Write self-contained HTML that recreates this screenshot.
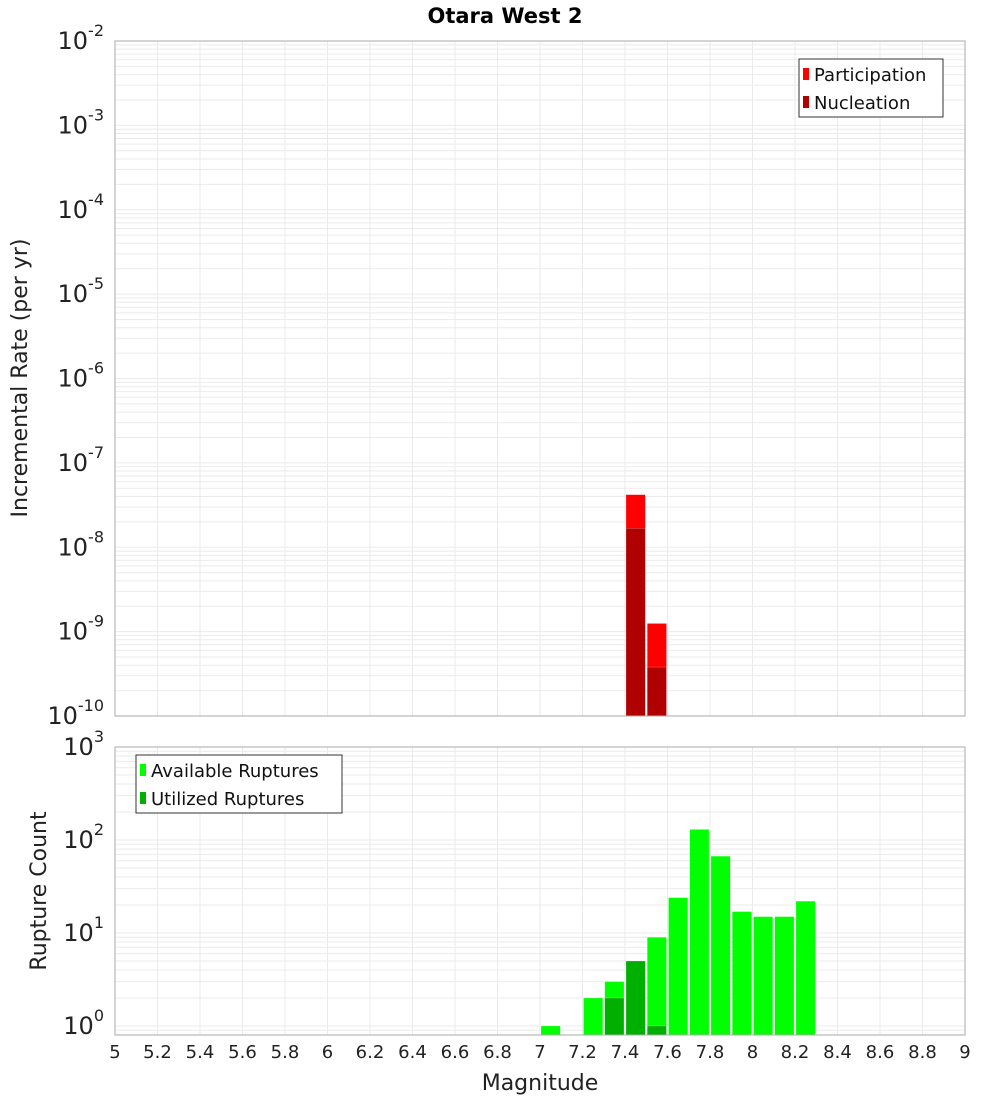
<!DOCTYPE html>
<html><head><meta charset="utf-8"><style>
body{margin:0;background:#fff;font-family:"Liberation Sans","DejaVu Sans",sans-serif}
svg text{font-family:"DejaVu Sans","Liberation Sans",sans-serif}
</style></head><body>
<svg id="c" width="1000" height="1100" xmlns="http://www.w3.org/2000/svg">
<text x="505" y="23" text-anchor="middle" font-size="21" font-weight="bold">Otara West 2</text>
<g id="topPanel"></g>
<g id="botPanel"></g>
<text transform="translate(27,378) rotate(-90)" text-anchor="middle" font-size="22" fill="#222">Incremental Rate (per yr)</text>
<text transform="translate(46,891) rotate(-90)" text-anchor="middle" font-size="22" fill="#222">Rupture Count</text>
<text x="540" y="1090" text-anchor="middle" font-size="22" fill="#222">Magnitude</text>
</svg>
<script>
const partMags=[7.4,7.5];
const partRates=[4.2e-8,1.25e-9];
const nuclMags=[7.4,7.5];
const nuclRates=[1.68e-8,3.8e-10];
const availMags=[7.0,7.2,7.3,7.4,7.5,7.6,7.7,7.8,7.9,8.0,8.1,8.2];
const availCounts=[1,2,3,5,9,24,130,67,17,15,15,22];
const utilMags=[7.3,7.4,7.5];
const utilCounts=[2,5,1];
const xTicks=[5,5.2,5.4,5.6,5.8,6,6.2,6.4,6.6,6.8,7,7.2,7.4,7.6,7.8,8,8.2,8.4,8.6,8.8,9];
const NS="http://www.w3.org/2000/svg";
const L=115,R=965;
const xs=m=>L+(m-5)/4*(R-L);
const yTop=v=>41+(-2-Math.log10(v))*84.375;
const yBot=v=>1026-Math.log10(v)*93;
function mk(p,t,a){const e=document.createElementNS(NS,t);for(const k in a)e.setAttribute(k,a[k]);p.appendChild(e);return e;}
function panel(g,t,b,yf,dmin,dmax,lo,hi,name){
  mk(g,'rect',{x:L,y:t,width:R-L,height:b-t,fill:'#fff',stroke:'none'});
  for(let d=dmin;d<=dmax;d++)for(let k=1;k<10;k++){const v=k*Math.pow(10,d);if(v<lo||v>hi)continue;const y=yf(v);
    const l=mk(g,'line',{x1:L,x2:R,y1:y,y2:y,stroke:'#ebebeb','stroke-width':1});
    
    }
  xTicks.forEach(m=>{const l=mk(g,'line',{x1:xs(m),x2:xs(m),y1:t,y2:b,stroke:'#ebebeb'});
    
    });
}
function bars(g,mags,vals,yf,base,color,name){
  mags.forEach((m,i)=>{const y=yf(vals[i]);const r=mk(g,'rect',{x:xs(m)+1,y:y,width:xs(m+0.1)-xs(m)-2,height:base-y,fill:color,stroke:'#fff','stroke-opacity':0.4,'stroke-width':0.5});
    
    });
}
function frame(g,t,b,name){const r=mk(g,'rect',{x:L,y:t,width:R-L,height:b-t,fill:'none',stroke:'#aaa'});
  
  }
function ylab(g,exp,y,name){const tx=mk(g,'text',{x:104,y:y+8,'text-anchor':'end','font-size':24,fill:'#222'});
  
  
  tx.textContent='10';const s=mk(tx,'tspan',{dy:-13,'font-size':16});s.textContent=exp;}
function legend(g,x0,y0,w,items,name){const r=mk(g,'rect',{x:x0,y:y0,width:w,height:58,fill:'#fff',stroke:'#333'});
  
  
  items.forEach((it,i)=>{const yy=y0+15+i*28;mk(g,'rect',{x:x0+4,y:yy-6,width:6,height:12,fill:it[1]});
    const tx=mk(g,'text',{x:x0+15,y:yy+7,'font-size':18,fill:'#111'});tx.textContent=it[0];
    
    });}
const topG=document.getElementById('topPanel'),botG=document.getElementById('botPanel');
panel(topG,41,716,yTop,-10,-3,1e-10,1e-2,'top');
bars(topG,partMags,partRates,yTop,716,'#ff0000','participation');
bars(topG,nuclMags,nuclRates,yTop,716,'#b00000','nucleation');
frame(topG,41,716,'top');
for(let e=-10;e<=-2;e++)ylab(topG,String(e),yTop(Math.pow(10,e)),'rate');
legend(topG,799,59,144,[['Participation','#ff0000'],['Nucleation','#b00000']],'rate-legend');
panel(botG,747,1035,yBot,-1,3,0.8,1000,'bottom');
bars(botG,availMags,availCounts,yBot,1035,'#00ff00','available');
bars(botG,utilMags,utilCounts,yBot,1035,'#00b000','utilized');
frame(botG,747,1035,'bottom');
for(let e=0;e<=3;e++)ylab(botG,String(e),yBot(Math.pow(10,e)),'count');
legend(botG,136,755,206,[['Available Ruptures','#00ff00'],['Utilized Ruptures','#00b000']],'count-legend');
xTicks.forEach(m=>{const t=mk(botG,'text',{x:xs(m),y:1058,'text-anchor':'middle','font-size':18,fill:'#222'});
  t.textContent=String(m);
  
  });
</script>
</body></html>
